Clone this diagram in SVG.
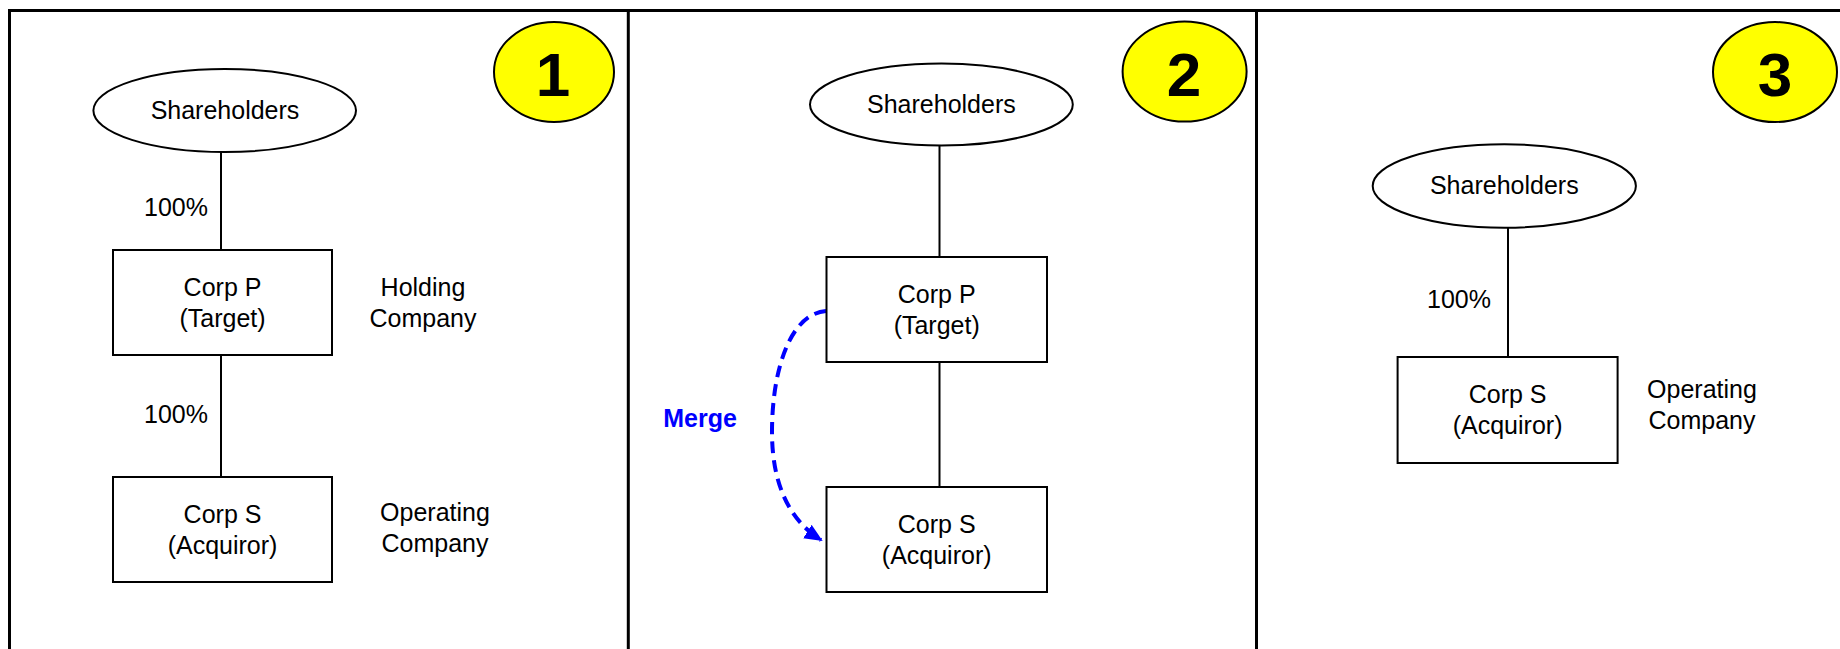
<svg xmlns="http://www.w3.org/2000/svg" width="1840" height="649" viewBox="0 0 1840 649">
<style>
text{font-family:"Liberation Sans",Arial,sans-serif;font-size:25px;fill:#000}
.c{text-anchor:middle}
.node{fill:#fff;stroke:#000;stroke-width:2}
.badge{fill:#ffff00;stroke:#000;stroke-width:2}
.num{font-size:62px;font-weight:bold;text-anchor:middle}
.conn{stroke:#000;stroke-width:2;fill:none}
.frame{stroke:#000;stroke-width:3;fill:none}
.merge{fill:#0000ff;font-weight:bold;text-anchor:middle}
</style>
<defs>
<marker id="ah" markerUnits="userSpaceOnUse" markerWidth="18" markerHeight="16" refX="16" refY="8" orient="auto">
<path d="M0,0 L18,8 L0,16 Z" fill="#0000ff"/>
</marker>
</defs>
<rect class="frame" x="9.5" y="10.5" width="1840" height="700"/>
<line class="frame" x1="628.3" y1="10" x2="628.3" y2="649"/>
<line class="frame" x1="1256.5" y1="10" x2="1256.5" y2="649"/>

<g id="connectors">
<line class="conn" x1="221" y1="152" x2="221" y2="250"/>
<line class="conn" x1="221" y1="355" x2="221" y2="477"/>
<line class="conn" x1="939.5" y1="146" x2="939.5" y2="257"/>
<line class="conn" x1="939.5" y1="362" x2="939.5" y2="487"/>
<line class="conn" x1="1508" y1="228" x2="1508" y2="357"/>
<path d="M826,311 C790,314 772,370 772,432 C772,488 792,522 821,540" fill="none" stroke="#0000ff" stroke-width="4" stroke-dasharray="12,7" marker-end="url(#ah)"/>
<text x="176" y="216" class="c">100%</text>
<text x="176" y="423" class="c">100%</text>
<text x="1459" y="308" class="c">100%</text>
<text x="700" y="427" class="merge">Merge</text>
</g>

<g id="badge1"><ellipse class="badge" cx="554" cy="72" rx="60" ry="50"/><text x="553" y="96" class="num">1</text></g>
<g id="badge2"><ellipse class="badge" cx="1184.6" cy="71.6" rx="62" ry="50"/><text x="1184" y="96" class="num">2</text></g>
<g id="badge3"><ellipse class="badge" cx="1775" cy="72" rx="62" ry="50"/><text x="1775" y="96" class="num">3</text></g>

<g id="p1-shareholders"><ellipse class="node" cx="224.7" cy="110.5" rx="131.3" ry="41.5"/><text x="225" y="119" class="c">Shareholders</text></g>
<g id="p1-corpP"><rect class="node" x="113" y="250" width="219" height="105"/><text x="222.5" y="296" class="c">Corp P</text><text x="222.5" y="327" class="c">(Target)</text></g>
<g id="p1-holding"><text x="423" y="296" class="c">Holding</text><text x="423" y="327" class="c">Company</text></g>
<g id="p1-corpS"><rect class="node" x="113" y="477" width="219" height="105"/><text x="222.5" y="523" class="c">Corp S</text><text x="222.5" y="554" class="c">(Acquiror)</text></g>
<g id="p1-operating"><text x="435" y="521" class="c">Operating</text><text x="435" y="552" class="c">Company</text></g>

<g id="p2-shareholders"><ellipse class="node" cx="941.4" cy="104.5" rx="131.4" ry="41"/><text x="941.4" y="113" class="c">Shareholders</text></g>
<g id="p2-corpP"><rect class="node" x="826.5" y="257" width="220.5" height="105"/><text x="936.7" y="303" class="c">Corp P</text><text x="936.7" y="334" class="c">(Target)</text></g>
<g id="p2-corpS"><rect class="node" x="826.5" y="487" width="220.5" height="105"/><text x="936.7" y="533" class="c">Corp S</text><text x="936.7" y="564" class="c">(Acquiror)</text></g>

<g id="p3-shareholders"><ellipse class="node" cx="1504.3" cy="186" rx="131.6" ry="41.7"/><text x="1504.3" y="193.5" class="c">Shareholders</text></g>
<g id="p3-corpS"><rect class="node" x="1397.6" y="357" width="220" height="106"/><text x="1507.6" y="403" class="c">Corp S</text><text x="1507.6" y="434" class="c">(Acquiror)</text></g>
<g id="p3-operating"><text x="1702" y="398" class="c">Operating</text><text x="1702" y="429" class="c">Company</text></g>
</svg>
